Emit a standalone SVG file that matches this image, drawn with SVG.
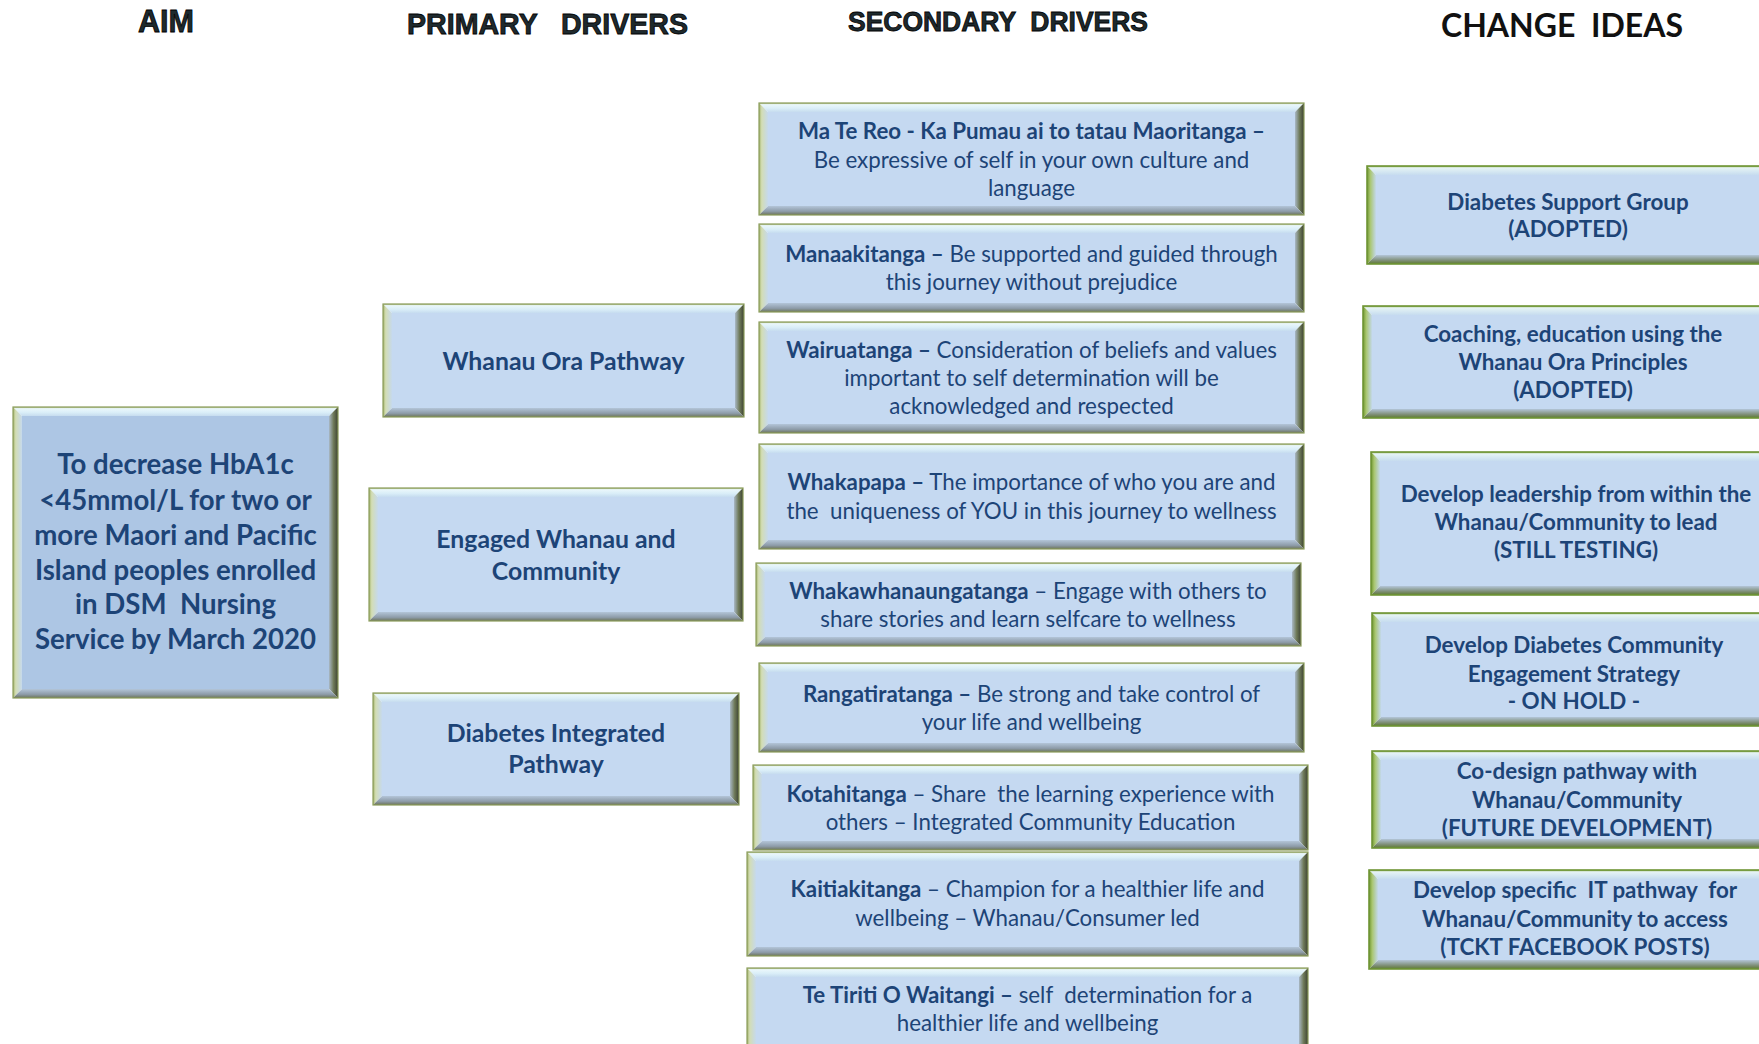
<svg xmlns="http://www.w3.org/2000/svg" width="1759" height="1044" viewBox="0 0 1759 1044">
<defs>
<linearGradient id="gTop" x1="0" y1="0" x2="0" y2="1"><stop offset="0" stop-color="#A9BC7C"/><stop offset="0.18" stop-color="#EAF7FB"/><stop offset="0.6" stop-color="#DAEEF8"/><stop offset="1" stop-color="#C6DCEF"/></linearGradient>
<linearGradient id="gLeft" x1="0" y1="0" x2="1" y2="0"><stop offset="0" stop-color="#A4B46C"/><stop offset="0.3" stop-color="#D3DDB4"/><stop offset="1" stop-color="#C6D9EC"/></linearGradient>
<linearGradient id="gRight" x1="0" y1="0" x2="1" y2="0"><stop offset="0" stop-color="#A9B8C6"/><stop offset="0.5" stop-color="#6F7A5A"/><stop offset="1" stop-color="#3C4232"/></linearGradient>
<linearGradient id="gBot" x1="0" y1="0" x2="0" y2="1"><stop offset="0" stop-color="#B3C5D8"/><stop offset="0.6" stop-color="#8D9BA8"/><stop offset="1" stop-color="#6C7458"/></linearGradient>
<linearGradient id="gTopC" x1="0" y1="0" x2="0" y2="1"><stop offset="0" stop-color="#7FA03E"/><stop offset="0.2" stop-color="#E6F4F5"/><stop offset="1" stop-color="#C6DCEF"/></linearGradient>
<linearGradient id="gLeftC" x1="0" y1="0" x2="1" y2="0"><stop offset="0" stop-color="#6E9530"/><stop offset="0.35" stop-color="#A9C66E"/><stop offset="1" stop-color="#C3D8EA"/></linearGradient>
<linearGradient id="gBotC" x1="0" y1="0" x2="0" y2="1"><stop offset="0" stop-color="#B3C5D8"/><stop offset="0.6" stop-color="#7F8F78"/><stop offset="1" stop-color="#5E7A30"/></linearGradient>
</defs>
<style>
.top{fill:url(#gTop)}.left{fill:url(#gLeft)}.right{fill:url(#gRight)}.bot{fill:url(#gBot)}
.ci .top{fill:url(#gTopC)}.ci .left{fill:url(#gLeftC)}.ci .bot{fill:url(#gBotC)}
.face{fill:#C5D9F1}.aim .face{fill:#ADC6E4}
.edge{fill:none;stroke:#8A9C5A;stroke-width:1.2}.ci .edge{stroke:#6F9535;stroke-width:1.6}
.t{font-family:Lato,"Open Sans",sans-serif;fill:#1D4477;text-anchor:middle}
.s{font-size:22.3px}.b{font-weight:bold}
.p{font-size:24.8px;font-weight:bold}.a{font-size:27.6px;font-weight:bold}.c{font-size:22.4px;font-weight:bold}
.h{font-family:"Liberation Sans",Arial,sans-serif;font-weight:bold;fill:#1E2A2E;stroke:#000;stroke-width:0.8}
.hc{font-family:Lato,"Open Sans",sans-serif;font-weight:bold;fill:#111;font-size:32px;text-anchor:middle}
</style>
<rect width="1759" height="1044" fill="#FFFFFF"/>
<g id="headers">
<text class="h" x="138" y="32" font-size="31" textLength="56" lengthAdjust="spacingAndGlyphs">AIM</text>
<text class="h" x="407" y="34" font-size="29" textLength="281" lengthAdjust="spacingAndGlyphs" xml:space="preserve">PRIMARY   DRIVERS</text>
<text class="h" x="848" y="31" font-size="27" textLength="300" lengthAdjust="spacingAndGlyphs" xml:space="preserve">SECONDARY  DRIVERS</text>
<text class="hc" x="1562" y="37" xml:space="preserve">CHANGE  IDEAS</text>
</g>
<g id="connectors"></g>
<g id="aim" class="aim" transform="translate(13,407)">
<polygon class="top" points="0,0 325,0 316,9 9,9"/><polygon class="left" points="0,0 9,9 9,282 0,291"/><polygon class="right" points="325,0 325,291 316,282 316,9"/><polygon class="bot" points="0,291 9,282 316,282 325,291"/><rect class="face" x="9" y="9" width="307" height="273"/><rect class="edge" x="0" y="0" width="325" height="291"/>
<text class="t a" x="162.5" y="67">To decrease HbA1c</text>
<text class="t a" x="162.5" y="103">&lt;45mmol/L for two or</text>
<text class="t a" x="162.5" y="138">more Maori and Pacific</text>
<text class="t a" x="162.5" y="173">Island peoples enrolled</text>
<text class="t a" x="162.5" y="207" xml:space="preserve">in DSM  Nursing</text>
<text class="t a" x="162.5" y="242">Service by March 2020</text>
</g>
<g id="p1" transform="translate(383,304)">
<polygon class="top" points="0,0 361,0 352,9 9,9"/><polygon class="left" points="0,0 9,9 9,104 0,113"/><polygon class="right" points="361,0 361,113 352,104 352,9"/><polygon class="bot" points="0,113 9,104 352,104 361,113"/><rect class="face" x="9" y="9" width="343" height="95"/><rect class="edge" x="0" y="0" width="361" height="113"/>
<text class="t p" x="180.5" y="66">Whanau Ora Pathway</text>
</g>
<g id="p2" transform="translate(369,488)">
<polygon class="top" points="0,0 374,0 365,9 9,9"/><polygon class="left" points="0,0 9,9 9,124 0,133"/><polygon class="right" points="374,0 374,133 365,124 365,9"/><polygon class="bot" points="0,133 9,124 365,124 374,133"/><rect class="face" x="9" y="9" width="356" height="115"/><rect class="edge" x="0" y="0" width="374" height="133"/>
<text class="t p" x="187" y="60">Engaged Whanau and</text>
<text class="t p" x="187" y="92">Community</text>
</g>
<g id="p3" transform="translate(373,693)">
<polygon class="top" points="0,0 366,0 357,9 9,9"/><polygon class="left" points="0,0 9,9 9,103 0,112"/><polygon class="right" points="366,0 366,112 357,103 357,9"/><polygon class="bot" points="0,112 9,103 357,103 366,112"/><rect class="face" x="9" y="9" width="348" height="94"/><rect class="edge" x="0" y="0" width="366" height="112"/>
<text class="t p" x="183" y="49">Diabetes Integrated</text>
<text class="t p" x="183" y="80">Pathway</text>
</g>
<g id="s1" transform="translate(759,103)">
<polygon class="top" points="0,0 545,0 536,9 9,9"/><polygon class="left" points="0,0 9,9 9,103 0,112"/><polygon class="right" points="545,0 545,112 536,103 536,9"/><polygon class="bot" points="0,112 9,103 536,103 545,112"/><rect class="face" x="9" y="9" width="527" height="94"/><rect class="edge" x="0" y="0" width="545" height="112"/>
<text class="t s b" x="272.5" y="36">Ma Te Reo - Ka Pumau ai to tatau Maoritanga –</text>
<text class="t s" x="272.5" y="64.5">Be expressive of self in your own culture and</text>
<text class="t s" x="272.5" y="92.5">language</text>
</g>
<g id="s2" transform="translate(759,224)">
<polygon class="top" points="0,0 545,0 536,9 9,9"/><polygon class="left" points="0,0 9,9 9,79 0,88"/><polygon class="right" points="545,0 545,88 536,79 536,9"/><polygon class="bot" points="0,88 9,79 536,79 545,88"/><rect class="face" x="9" y="9" width="527" height="70"/><rect class="edge" x="0" y="0" width="545" height="88"/>
<text class="t s" x="272.5" y="38"><tspan class="b">Manaakitanga –</tspan> Be supported and guided through</text>
<text class="t s" x="272.5" y="66">this journey without prejudice</text>
</g>
<g id="s3" transform="translate(759,322)">
<polygon class="top" points="0,0 545,0 536,9 9,9"/><polygon class="left" points="0,0 9,9 9,102 0,111"/><polygon class="right" points="545,0 545,111 536,102 536,9"/><polygon class="bot" points="0,111 9,102 536,102 545,111"/><rect class="face" x="9" y="9" width="527" height="93"/><rect class="edge" x="0" y="0" width="545" height="111"/>
<text class="t s" x="272.5" y="36"><tspan class="b">Wairuatanga –</tspan> Consideration of beliefs and values</text>
<text class="t s" x="272.5" y="64">important to self determination will be</text>
<text class="t s" x="272.5" y="92">acknowledged and respected</text>
</g>
<g id="s4" transform="translate(759,444)">
<polygon class="top" points="0,0 545,0 536,9 9,9"/><polygon class="left" points="0,0 9,9 9,96 0,105"/><polygon class="right" points="545,0 545,105 536,96 536,9"/><polygon class="bot" points="0,105 9,96 536,96 545,105"/><rect class="face" x="9" y="9" width="527" height="87"/><rect class="edge" x="0" y="0" width="545" height="105"/>
<text class="t s" x="272.5" y="46"><tspan class="b">Whakapapa –</tspan> The importance of who you are and</text>
<text class="t s" x="272.5" y="75" xml:space="preserve">the  uniqueness of YOU in this journey to wellness</text>
</g>
<g id="s5" transform="translate(756,563)">
<polygon class="top" points="0,0 545,0 536,9 9,9"/><polygon class="left" points="0,0 9,9 9,74 0,83"/><polygon class="right" points="545,0 545,83 536,74 536,9"/><polygon class="bot" points="0,83 9,74 536,74 545,83"/><rect class="face" x="9" y="9" width="527" height="65"/><rect class="edge" x="0" y="0" width="545" height="83"/>
<text class="t s" x="272" y="35.5"><tspan class="b">Whakawhanaungatanga</tspan> – Engage with others to</text>
<text class="t s" x="272" y="63.5">share stories and learn selfcare to wellness</text>
</g>
<g id="s6" transform="translate(759,663)">
<polygon class="top" points="0,0 545,0 536,9 9,9"/><polygon class="left" points="0,0 9,9 9,80 0,89"/><polygon class="right" points="545,0 545,89 536,80 536,9"/><polygon class="bot" points="0,89 9,80 536,80 545,89"/><rect class="face" x="9" y="9" width="527" height="71"/><rect class="edge" x="0" y="0" width="545" height="89"/>
<text class="t s" x="272.5" y="39"><tspan class="b">Rangatiratanga –</tspan> Be strong and take control of</text>
<text class="t s" x="272.5" y="67">your life and wellbeing</text>
</g>
<g id="s7" transform="translate(753,765)">
<polygon class="top" points="0,0 555,0 546,9 9,9"/><polygon class="left" points="0,0 9,9 9,76 0,85"/><polygon class="right" points="555,0 555,85 546,76 546,9"/><polygon class="bot" points="0,85 9,76 546,76 555,85"/><rect class="face" x="9" y="9" width="537" height="67"/><rect class="edge" x="0" y="0" width="555" height="85"/>
<text class="t s" x="277.5" y="37" xml:space="preserve"><tspan class="b">Kotahitanga</tspan> – Share  the learning experience with</text>
<text class="t s" x="277.5" y="65">others – Integrated Community Education</text>
</g>
<g id="s8" transform="translate(747,852)">
<polygon class="top" points="0,0 561,0 552,9 9,9"/><polygon class="left" points="0,0 9,9 9,95 0,104"/><polygon class="right" points="561,0 561,104 552,95 552,9"/><polygon class="bot" points="0,104 9,95 552,95 561,104"/><rect class="face" x="9" y="9" width="543" height="86"/><rect class="edge" x="0" y="0" width="561" height="104"/>
<text class="t s" x="280.5" y="45"><tspan class="b">Kaitiakitanga</tspan> – Champion for a healthier life and</text>
<text class="t s" x="280.5" y="74">wellbeing – Whanau/Consumer led</text>
</g>
<g id="s9" transform="translate(747,968)">
<polygon class="top" points="0,0 561,0 552,9 9,9"/><polygon class="left" points="0,0 9,9 9,81 0,90"/><polygon class="right" points="561,0 561,90 552,81 552,9"/><polygon class="bot" points="0,90 9,81 552,81 561,90"/><rect class="face" x="9" y="9" width="543" height="72"/><rect class="edge" x="0" y="0" width="561" height="90"/>
<text class="t s" x="280.5" y="34.5" xml:space="preserve"><tspan class="b">Te Tiriti O Waitangi –</tspan> self  determination for a</text>
<text class="t s" x="280.5" y="63">healthier life and wellbeing</text>
</g>
<g id="c1" class="ci" transform="translate(1367,166)">
<polygon class="top" points="0,0 408,0 399,9 9,9"/><polygon class="left" points="0,0 9,9 9,89 0,98"/><polygon class="right" points="408,0 408,98 399,89 399,9"/><polygon class="bot" points="0,98 9,89 399,89 408,98"/><rect class="face" x="9" y="9" width="390" height="80"/><rect class="edge" x="0" y="0" width="408" height="98"/>
<text class="t c" x="201" y="43.5">Diabetes Support Group</text>
<text class="t c" x="201" y="71">(ADOPTED)</text>
</g>
<g id="c2" class="ci" transform="translate(1363,306)">
<polygon class="top" points="0,0 412,0 403,9 9,9"/><polygon class="left" points="0,0 9,9 9,103 0,112"/><polygon class="right" points="412,0 412,112 403,103 403,9"/><polygon class="bot" points="0,112 9,103 403,103 412,112"/><rect class="face" x="9" y="9" width="394" height="94"/><rect class="edge" x="0" y="0" width="412" height="112"/>
<text class="t c" x="210" y="36">Coaching, education using the</text>
<text class="t c" x="210" y="64">Whanau Ora Principles</text>
<text class="t c" x="210" y="92">(ADOPTED)</text>
</g>
<g id="c3" class="ci" transform="translate(1371,452)">
<polygon class="top" points="0,0 404,0 395,9 9,9"/><polygon class="left" points="0,0 9,9 9,134 0,143"/><polygon class="right" points="404,0 404,143 395,134 395,9"/><polygon class="bot" points="0,143 9,134 395,134 404,143"/><rect class="face" x="9" y="9" width="386" height="125"/><rect class="edge" x="0" y="0" width="404" height="143"/>
<text class="t c" x="205" y="50">Develop leadership from within the</text>
<text class="t c" x="205" y="78">Whanau/Community to lead</text>
<text class="t c" x="205" y="106">(STILL TESTING)</text>
</g>
<g id="c4" class="ci" transform="translate(1372,613)">
<polygon class="top" points="0,0 403,0 394,9 9,9"/><polygon class="left" points="0,0 9,9 9,104 0,113"/><polygon class="right" points="403,0 403,113 394,104 394,9"/><polygon class="bot" points="0,113 9,104 394,104 403,113"/><rect class="face" x="9" y="9" width="385" height="95"/><rect class="edge" x="0" y="0" width="403" height="113"/>
<text class="t c" x="202" y="40">Develop Diabetes Community</text>
<text class="t c" x="202" y="69">Engagement Strategy</text>
<text class="t c" x="202" y="96">- ON HOLD -</text>
</g>
<g id="c5" class="ci" transform="translate(1372,751)">
<polygon class="top" points="0,0 403,0 394,9 9,9"/><polygon class="left" points="0,0 9,9 9,88 0,97"/><polygon class="right" points="403,0 403,97 394,88 394,9"/><polygon class="bot" points="0,97 9,88 394,88 403,97"/><rect class="face" x="9" y="9" width="385" height="79"/><rect class="edge" x="0" y="0" width="403" height="97"/>
<text class="t c" x="205" y="28">Co-design pathway with</text>
<text class="t c" x="205" y="57">Whanau/Community</text>
<text class="t c" x="205" y="85">(FUTURE DEVELOPMENT)</text>
</g>
<g id="c6" class="ci" transform="translate(1369,870)">
<polygon class="top" points="0,0 406,0 397,9 9,9"/><polygon class="left" points="0,0 9,9 9,90 0,99"/><polygon class="right" points="406,0 406,99 397,90 397,9"/><polygon class="bot" points="0,99 9,90 397,90 406,99"/><rect class="face" x="9" y="9" width="388" height="81"/><rect class="edge" x="0" y="0" width="406" height="99"/>
<text class="t c" x="206" y="28" xml:space="preserve">Develop specific  IT pathway  for</text>
<text class="t c" x="206" y="57">Whanau/Community to access</text>
<text class="t c" x="206" y="85">(TCKT FACEBOOK POSTS)</text>
</g>
</svg>
